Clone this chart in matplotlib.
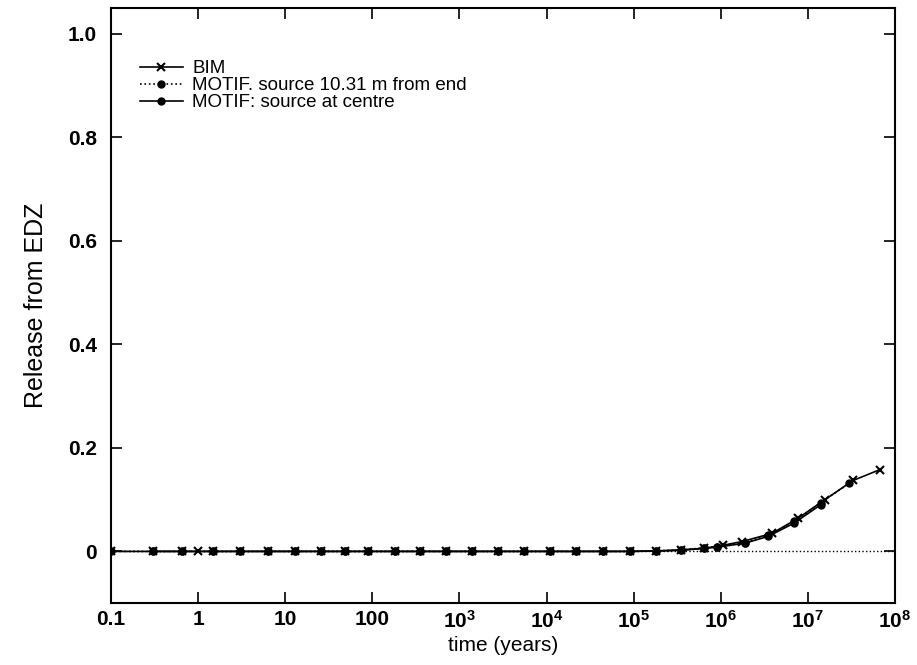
import matplotlib
matplotlib.use("Agg")
import matplotlib.pyplot as plt
from matplotlib.ticker import FixedLocator, FixedFormatter

plt.rcParams['font.family'] = ['Liberation Sans', 'DejaVu Sans']
plt.rcParams['mathtext.fontset'] = 'custom'
plt.rcParams['mathtext.rm'] = 'Liberation Sans:bold'
plt.rcParams['mathtext.bf'] = 'Liberation Sans:bold'
plt.rcParams['mathtext.default'] = 'rm'

# BIM release from EDZ (x markers)
t_bim = [0.1, 0.3, 0.65, 1.0, 1.5, 3.0, 6.3, 13, 26, 48, 90, 180, 350, 700,
         1.4e3, 2.8e3, 5.5e3, 1.1e4, 2.2e4, 4.5e4, 9e4, 1.8e5, 3.5e5, 6.5e5,
         1.07e6, 1.76e6, 3.9e6, 7.7e6, 1.57e7, 3.3e7, 6.7e7]
r_bim = [0, 0, 0, 0, 0, 0, 0, 0, 0, 0, 0, 0, 0, 0,
         0, 0, 0, 0, 0, 0, 0, 0.0005, 0.002, 0.006,
         0.012, 0.019, 0.035, 0.064, 0.100, 0.137, 0.158]

# MOTIF, source 10.31 m from end (dotted, filled circles)
t_motif_end = [0.1, 0.3, 0.65, 1.5, 3.0, 6.3, 13, 26, 48, 90, 180, 350, 700,
               1.4e3, 2.8e3, 5.5e3, 1.1e4, 2.2e4, 4.5e4, 9e4, 1.8e5, 3.5e5,
               6.5e5, 9e5, 1.9e6, 3.5e6, 7e6, 1.4e7, 3e7]
r_motif_end = [0, 0, 0, 0, 0, 0, 0, 0, 0, 0, 0, 0, 0,
               0, 0, 0, 0, 0, 0, 0, 0.001, 0.003, 0.007,
               0.009, 0.017, 0.031, 0.058, 0.094, 0.132]

# MOTIF, source at centre (solid, filled circles)
t_motif_cen = [0.3, 0.65, 1.5, 3.0, 6.3, 13, 26, 48, 90, 180, 350, 700,
               1.4e3, 2.8e3, 5.5e3, 1.1e4, 2.2e4, 4.5e4, 9e4, 1.8e5, 3.5e5,
               6.5e5, 9e5, 1.9e6, 3.5e6, 7e6, 1.4e7]
r_motif_cen = [0, 0, 0, 0, 0, 0, 0, 0, 0, 0, 0, 0,
               0, 0, 0, 0, 0, 0, 0, 0.001, 0.003, 0.006,
               0.008, 0.016, 0.029, 0.055, 0.09]

xticks = [0.1, 1, 10, 100, 1e3, 1e4, 1e5, 1e6, 1e7, 1e8]
xtick_labels = ['0.1', '1', '10', '100', r'$10^3$', r'$10^4$', r'$10^5$',
                r'$10^6$', r'$10^7$', r'$10^8$']
yticks = [0, 0.2, 0.4, 0.6, 0.8, 1.0]
ytick_labels = ['0', '0.2', '0.4', '0.6', '0.8', '1.0']

fig = plt.figure(figsize=(9.17, 6.65), dpi=100)
ax = fig.add_axes([0.121, 0.093, 0.855, 0.895])

ax.axhline(0, color='black', linestyle=':', linewidth=1)
ax.plot(t_bim, r_bim, color='black', linestyle='-', linewidth=1.2,
        marker='x', markersize=6, markeredgewidth=1.5, label='BIM')
ax.plot(t_motif_end, r_motif_end, color='black', linestyle=':', linewidth=1.2,
        marker='o', markersize=5, label='MOTIF. source 10.31 m from end')
ax.plot(t_motif_cen, r_motif_cen, color='black', linestyle='-', linewidth=1.2,
        marker='o', markersize=5, label='MOTIF: source at centre')

ax.set_xscale('log')
ax.set_xlim(0.1, 1e8)
ax.set_ylim(-0.1, 1.05)
ax.xaxis.set_major_locator(FixedLocator(xticks))
ax.xaxis.set_major_formatter(FixedFormatter(xtick_labels))
ax.xaxis.set_minor_locator(FixedLocator([]))
ax.set_yticks(yticks)
ax.set_yticklabels(ytick_labels)
ax.tick_params(direction='in', length=8, width=1.2, top=True, right=True,
               labelsize=15)
ax.tick_params(axis='x', pad=5)
ax.tick_params(axis='y', pad=10)
for lab in ax.get_xticklabels() + ax.get_yticklabels():
    lab.set_fontweight('bold')
for s in ax.spines.values():
    s.set_linewidth(1.5)

ax.set_xlabel('time (years)', fontsize=15, labelpad=3)
ax.set_ylabel('Release from EDZ', fontsize=18, labelpad=14)

ax.legend(loc='upper left', bbox_to_anchor=(0.027, 0.925), frameon=False,
          fontsize=13.5, labelspacing=0.0, handlelength=2.3, handletextpad=0.5,
          borderaxespad=0)

fig.savefig('out.png', dpi=100)
